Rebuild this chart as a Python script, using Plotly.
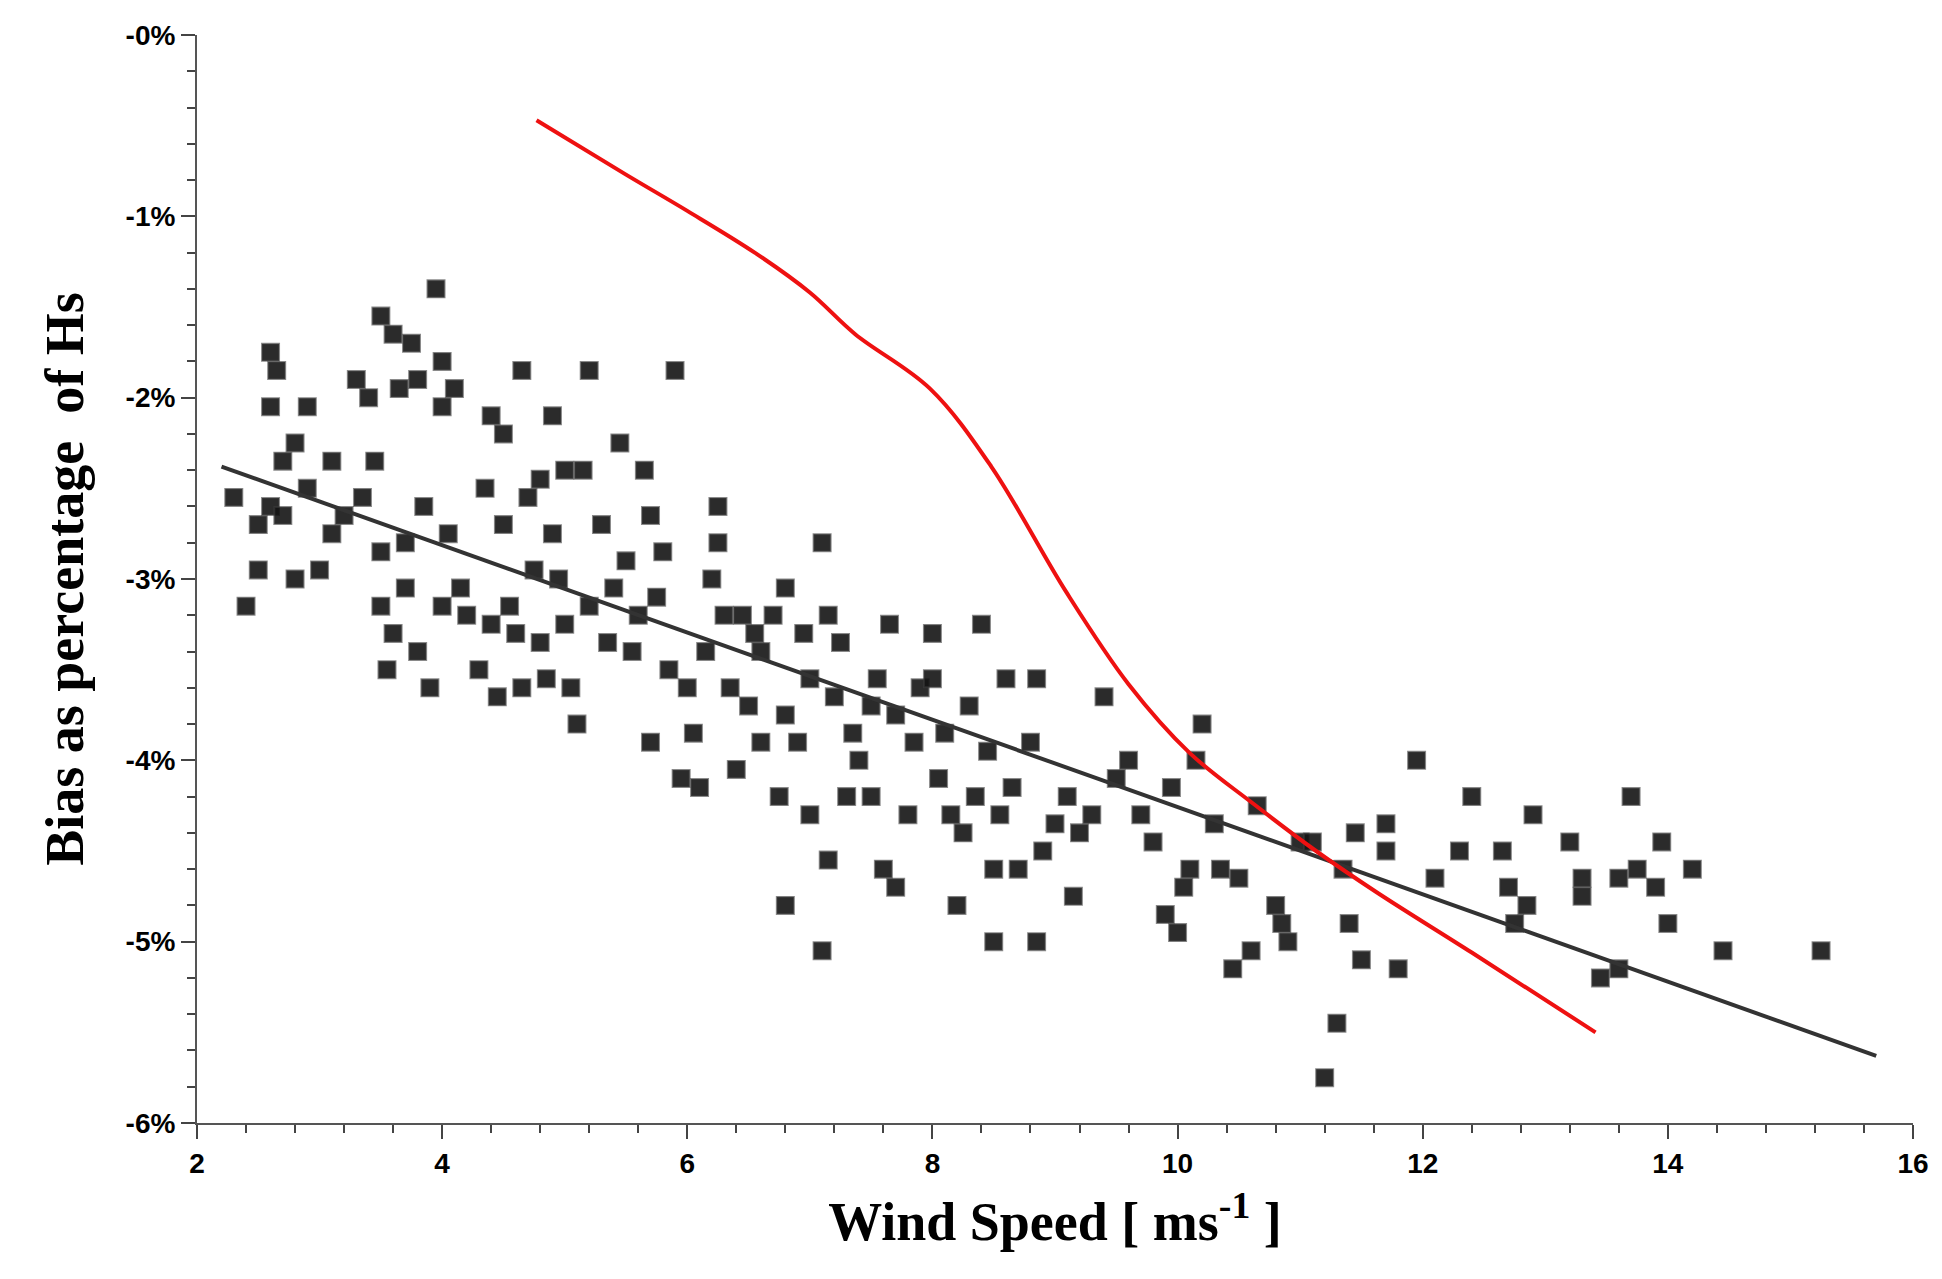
import plotly.graph_objects as go

# scatter of bias vs wind speed
pts_x = [2.3, 2.4, 2.5, 2.5, 2.6, 2.6, 2.65, 2.6, 2.7, 2.7, 2.8, 2.8, 2.9, 2.9, 3.0, 3.1, 3.1, 3.2, 3.3, 3.35,
         3.4, 3.45, 3.5, 3.5, 3.5, 3.55, 3.6, 3.6, 3.65, 3.7, 3.7, 3.75, 3.8, 3.8, 3.85, 3.9, 3.95, 4.0, 4.0, 4.0,
         4.05, 4.1, 4.15, 4.2, 4.3, 4.35, 4.4, 4.4, 4.45, 4.5, 4.5, 4.55, 4.6, 4.65, 4.65, 4.7, 4.75, 4.8, 4.8, 4.85,
         4.9, 4.9, 4.95, 5.0, 5.0, 5.05, 5.1, 5.15, 5.2, 5.2, 5.3, 5.35, 5.4, 5.45, 5.5, 5.55, 5.6, 5.65, 5.7, 5.7,
         5.75, 5.8, 5.85, 5.9, 5.95, 6.0, 6.05, 6.1, 6.15, 6.2, 6.25, 6.25, 6.3, 6.35, 6.4, 6.45, 6.5, 6.55, 6.6, 6.6,
         6.7, 6.75, 6.8, 6.8, 6.8, 6.9, 6.95, 7.0, 7.0, 7.1, 7.1, 7.15, 7.15, 7.2, 7.25, 7.3, 7.35, 7.4, 7.5, 7.5,
         7.55, 7.6, 7.65, 7.7, 7.7, 7.8, 7.85, 7.9, 8.0, 8.0, 8.05, 8.1, 8.15, 8.2, 8.25, 8.3, 8.35, 8.4, 8.45, 8.5,
         8.5, 8.55, 8.6, 8.65, 8.7, 8.8, 8.85, 8.85, 8.9, 9.0, 9.1, 9.15, 9.2, 9.3, 9.4, 9.5, 9.6, 9.7, 9.8, 9.9,
         9.95, 10.0, 10.05, 10.1, 10.15, 10.2, 10.3, 10.35, 10.45, 10.5, 10.6, 10.65, 10.8, 10.85, 10.9, 11.0, 11.1, 11.2, 11.3, 11.35,
         11.4, 11.45, 11.5, 11.7, 11.7, 11.8, 11.95, 12.1, 12.3, 12.4, 12.65, 12.7, 12.75, 12.85, 12.9, 13.2, 13.3, 13.3, 13.45, 13.6,
         13.6, 13.7, 13.75, 13.9, 13.95, 14.0, 14.2, 14.45, 15.25]
pts_y = [-2.55, -3.15, -2.95, -2.7, -2.6, -1.75, -1.85, -2.05, -2.35, -2.65, -2.25, -3.0, -2.05, -2.5, -2.95, -2.35, -2.75, -2.65, -1.9, -2.55,
         -2.0, -2.35, -1.55, -2.85, -3.15, -3.5, -1.65, -3.3, -1.95, -2.8, -3.05, -1.7, -3.4, -1.9, -2.6, -3.6, -1.4, -1.8, -2.05, -3.15,
         -2.75, -1.95, -3.05, -3.2, -3.5, -2.5, -2.1, -3.25, -3.65, -2.2, -2.7, -3.15, -3.3, -3.6, -1.85, -2.55, -2.95, -2.45, -3.35, -3.55,
         -2.75, -2.1, -3.0, -3.25, -2.4, -3.6, -3.8, -2.4, -1.85, -3.15, -2.7, -3.35, -3.05, -2.25, -2.9, -3.4, -3.2, -2.4, -2.65, -3.9,
         -3.1, -2.85, -3.5, -1.85, -4.1, -3.6, -3.85, -4.15, -3.4, -3.0, -2.6, -2.8, -3.2, -3.6, -4.05, -3.2, -3.7, -3.3, -3.9, -3.4,
         -3.2, -4.2, -3.05, -3.75, -4.8, -3.9, -3.3, -3.55, -4.3, -5.05, -2.8, -3.2, -4.55, -3.65, -3.35, -4.2, -3.85, -4.0, -4.2, -3.7,
         -3.55, -4.6, -3.25, -3.75, -4.7, -4.3, -3.9, -3.6, -3.3, -3.55, -4.1, -3.85, -4.3, -4.8, -4.4, -3.7, -4.2, -3.25, -3.95, -4.6,
         -5.0, -4.3, -3.55, -4.15, -4.6, -3.9, -5.0, -3.55, -4.5, -4.35, -4.2, -4.75, -4.4, -4.3, -3.65, -4.1, -4.0, -4.3, -4.45, -4.85,
         -4.15, -4.95, -4.7, -4.6, -4.0, -3.8, -4.35, -4.6, -5.15, -4.65, -5.05, -4.25, -4.8, -4.9, -5.0, -4.45, -4.45, -5.75, -5.45, -4.6,
         -4.9, -4.4, -5.1, -4.35, -4.5, -5.15, -4.0, -4.65, -4.5, -4.2, -4.5, -4.7, -4.9, -4.8, -4.3, -4.45, -4.75, -4.65, -5.2, -5.15,
         -4.65, -4.2, -4.6, -4.7, -4.45, -4.9, -4.6, -5.05, -5.05]

# linear fit line
fit_x = [2.2, 15.7]
fit_y = [-2.38, -5.63]

# red curve
red_x = [4.77, 5.5, 6.0, 6.55, 7.0, 7.37, 7.98, 8.48, 9.09, 9.6, 10.1, 10.6, 11.13, 11.63, 12.4, 13.41]
red_y = [-0.47, -0.77, -0.97, -1.2, -1.42, -1.65, -1.95, -2.38, -3.07, -3.58, -3.96, -4.23, -4.5, -4.73, -5.06, -5.5]

y_ticks = [0, -1, -2, -3, -4, -5, -6]
y_labels = ["-0%", "-1%", "-2%", "-3%", "-4%", "-5%", "-6%"]
x_ticks = [2, 4, 6, 8, 10, 12, 14, 16]

fig = go.Figure()
fig.add_trace(go.Scatter(
    x=pts_x, y=pts_y, mode="markers",
    marker=dict(symbol="square", size=17, color="rgba(20,20,20,0.9)",
                line=dict(width=2, color="rgba(60,60,60,0.6)")),
    showlegend=False))
fig.add_trace(go.Scatter(x=fit_x, y=fit_y, mode="lines",
                         line=dict(color="#333333", width=4), showlegend=False))
fig.add_trace(go.Scatter(x=red_x, y=red_y, mode="lines", line_shape="spline",
                         line=dict(color="#ee1111", width=4), showlegend=False))

tick_font = dict(family="Liberation Sans", size=28, color="black", weight="bold")
title_font = dict(family="Liberation Serif", size=54, color="black", weight="bold")
fig.update_xaxes(
    range=[2, 16], tickvals=x_ticks, showgrid=False, zeroline=False,
    showline=True, linecolor="#555", linewidth=2,
    ticks="outside", ticklen=14, tickwidth=2, tickcolor="#444",
    minor=dict(dtick=0.4, ticks="outside", ticklen=8, tickwidth=2, tickcolor="#444"),
    tickfont=tick_font,
    title=dict(text="Wind Speed [ ms<sup>-1</sup> ]", standoff=25, font=title_font))
fig.update_yaxes(
    range=[-6, 0], tickvals=y_ticks, ticktext=y_labels, showgrid=False, zeroline=False,
    showline=True, linecolor="#555", linewidth=2,
    ticks="outside", ticklen=14, tickwidth=2, tickcolor="#444",
    minor=dict(dtick=0.2, ticks="outside", ticklen=8, tickwidth=2, tickcolor="#444"),
    tickfont=tick_font,
    title=dict(text="Bias as percentage  of Hs", standoff=25, font=title_font))
fig.update_layout(
    width=1942, height=1279, plot_bgcolor="white", paper_bgcolor="white",
    margin=dict(l=189, r=37, t=27, b=164))

fig.write_html("out.html")
